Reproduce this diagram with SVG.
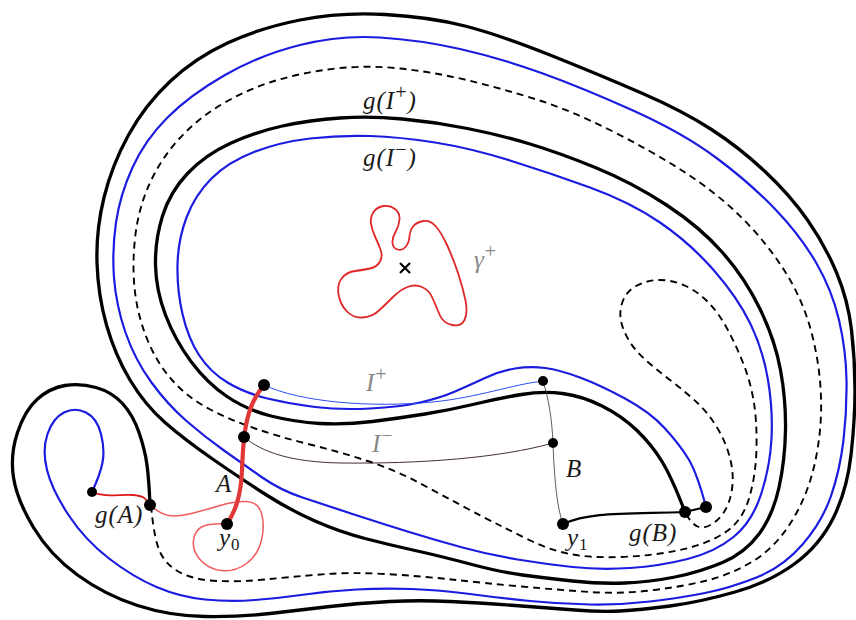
<svg xmlns="http://www.w3.org/2000/svg" width="856" height="620" viewBox="0 0 856 620">
<style>
.blk{fill:none;stroke:#000;stroke-width:3.3;stroke-linecap:round;stroke-linejoin:round}
.blu{fill:none;stroke:#1c1ce0;stroke-width:2.2;stroke-linecap:round}
.dsh{fill:none;stroke:#000;stroke-width:1.9;stroke-dasharray:7 5}
.red{fill:none;stroke:#e02828;stroke-width:1.8}
.lt{fill:#1a1a1a;font-family:'Liberation Serif',serif;font-style:italic;font-size:25px;letter-spacing:1px}
.sp{font-size:20px;font-style:normal}
.sb{font-size:17px;font-style:normal}
.gr{fill:#888}
.dot{fill:#000}
</style>
<rect width="856" height="620" fill="#fff"/>
<g id="connectors">
<path id="black-spiral" class="blk" d="M685,512 Q672,478 662,461.5 T637,430.5 T602,406 T562.5,393.5 T521.5,394.5 T475,404 T425,414 T372.5,421.5 T320,423.5 T271,416 T227,396.5 T191,361.5 T165.5,315 T155.5,265 T162.5,216 T187.5,173.5 T230,143.5 T282.5,126 T340,118 T402.5,119 T467.5,128.5 T530,144 T596.5,168 T666.5,205 T722.5,252.5 T760,309 T780.5,370 T785.5,430 T779,487.5 T759,534 T722.5,562.5 T675,577 T625,583 T572.5,581 T522.5,575 T470,564 T415,550.5 T365,538.5 T315,521 T266.5,495 T214,460 T165,422.5 T130,380 T106.5,325 T97,262.5 T104,197.5 T128.5,135 T170,81.5 T227.5,43 T300,20 T385,14.5 T465,26 T550,55 T641.5,93 T711.5,129.5 T765,171.5 T807.5,220 T836.5,272.5 T851.5,330 T855,390 T851,455 T833.5,517.5 T795,563.5 T735,592 T670,606 T620,611 T575,610 T515,605.5 T450,601.5 T390,601.5 T330,606.5 T270,613.5 T205,616.5 T137.5,605.5 T77.5,575 T33.5,527.5 T13.5,477.5 T17.5,432.5 T37.5,399 T65,385.5 T96,387.5 T122.5,403.5 T139,432.5 T147,465 T150,505"/>
<path id="blue-spiral" class="blu" d="M706,507 Q697,473 688.5,459 T665,428.5 T625,398.5 T580,377.5 T545,368 T515,368.5 T485,378 T455,391.5 T420,402.5 T370,408.5 T315,407 T267.5,398.5 T227.5,382.5 T199,355 T182.5,314 T177.5,265 T186.5,217.5 T211.5,178.5 T254,152 T310,138.5 T370,136 T435,142.5 T510,160.5 T590,187.5 T660,222.5 T714,270.5 T750.5,324 T768,380 T771.5,438.5 T761,494.5 T733.5,537 T687.5,559 T630,568 T572.5,567 T517.5,559.5 T462.5,547.5 T407.5,531.5 T352.5,514 T302.5,497.5 T261.5,477 T224,450.5 T186.5,421 T151.5,382.5 T125.5,332.5 T114,277.5 T116,222.5 T132.5,167.5 T167.5,117.5 T225,75 T300,45 T380,37.5 T460,49 T541.5,73 T633,110.5 T716.5,158 T775,209 T816,262.5 T839,320 T846.5,380 T843.5,440 T831,496 T802.5,544.5 T756.5,577.5 T705,593 T650,601.5 T590,604.5 T530,601 T470,594 T411.5,589 T356.5,589.5 T305,594.5 T255,600 T205,599.5 T156.5,587 T109,558.5 T68.5,515 T47,470 T47.5,434 T64,412.5 T86,412.5 T101,434 T102.5,462.5 T92,492"/>
<path id="dashed-spiral" class="dsh" d="M686,514 Q692,524 697.5,526.5 T710.5,525 T724,512 T732,489 T730.5,460 T718.5,430 T698.5,404 T672,381.5 T644.5,359 T625,333 T621.5,305 T636,286 T659.5,280 T684.5,285.5 T707.5,301.5 T726.5,327.5 T742.5,361.5 T753.5,400 T756.5,447.5 T749,498.5 T723.5,533.5 T677.5,550.5 T620,557 T570,554 T532.5,541.5 T499,525 T461.5,505.5 T417.5,482 T367.5,461 T310,444.5 T255,428.5 T208.5,408.5 T172,380 T147.5,340 T135,292 T135,238.5 T149,185 T179,139 T224,103 T277.5,80 T336,68.5 T400,68.5 T466.5,80 T535,99 T610,130 T683.5,171.5 T742,218 T785,271.5 T811.5,332.5 T821,397.5 T815,462.5 T791.5,521.5 T752.5,561.5 T705,581 T650,590.5 T590,592 T521.5,586.5 T451.5,579.5 T385,574 T320,574.5 T265,579.5 T217.5,581 T181,573 T160.5,553 T151,505"/>
<path id="I-plus" fill="none" stroke="#2a4cf0" stroke-width="1" d="M264,385 C300,402 370,408 433,402 C480,397 510,385 543,381"/>
<path id="I-minus" fill="none" stroke="#301818" stroke-width="0.9" d="M244,437 C262,452 290,462 340,463 C420,464 500,458 553,443"/>
<path id="B" fill="none" stroke="#333" stroke-width="0.8" d="M543,381 C549,400 552,420 553,443 C554,470 556,505 563,524"/>
<path id="gB" fill="none" stroke="#000" stroke-width="2.2" d="M563,524 C590,512 620,514 685,512 L706,507"/>
<path id="gA" fill="none" stroke="#e01818" stroke-width="1.8" d="M92,492 C105,498 120,494 133,495 S146,500 150,505"/>
<path id="loop-y0" fill="none" stroke="#f05a5a" stroke-width="1.5" d="M150,505 Q160,514 169,515.5 T191.5,513.5 T220,505.5 T246.5,501.5 T261.5,513.5 T261.5,540 T246.5,563.5 T221.5,570.5 T200,559.5 T193.5,540 T202.5,526.5 T227,524"/>
<path id="A" fill="none" stroke="#e03838" stroke-width="4.2" stroke-linecap="round" d="M227,524 C236,510 241,495 242,470 C243,450 243,440 246,425 C250,405 256,395 264,385"/>
</g>
<g id="gamma-plus">
<path class="red" d="M375,236.5 Q372,230 371,223.5 T373.5,212 T383.5,206 T395,209 T399.5,219.5 T395.5,232 T392.5,243 T397.5,249.5 T405.5,247 T409.5,236.5 T413.5,226 T423.5,221 T435.5,226 T447,245 T458,273 T465.5,300.5 T464.5,320 T452,325 T439.5,314.5 T432.5,298 T422,287 T407.5,287 T393,297 T379,310.5 T362.5,317.5 T346.5,311 T338.5,294 T342,278 T355,271 T370,268.5 T380,261.5 T380.5,249.5 T375,236.5 Z"/>
<path fill="none" stroke="#000" stroke-width="2.2" d="M400,263 L410,273 M400,273 L410,263"/>
</g>
<g id="nodes">
<g id="n-Iplus-left"><circle class="dot" cx="264" cy="385" r="6"/></g>
<g id="n-Iminus-left"><circle class="dot" cx="244" cy="437" r="6"/></g>
<g id="n-y0"><circle class="dot" cx="227" cy="524" r="6"/></g>
<g id="n-Iplus-right"><circle class="dot" cx="543" cy="381" r="5"/></g>
<g id="n-Iminus-right"><circle class="dot" cx="553" cy="443" r="5"/></g>
<g id="n-y1"><circle class="dot" cx="563" cy="524" r="6"/></g>
<g id="n-gB-left"><circle class="dot" cx="685" cy="512" r="6"/></g>
<g id="n-gB-right"><circle class="dot" cx="706" cy="507" r="6"/></g>
<g id="n-gA-left"><circle class="dot" cx="92" cy="492" r="5"/></g>
<g id="n-gA-right"><circle class="dot" cx="150" cy="505" r="6"/></g>
</g>
<g id="labels">
<text class="lt" x="363" y="109">g(I<tspan class="sp" dy="-10">+</tspan><tspan dy="10">)</tspan></text>
<text class="lt" x="363" y="166">g(I<tspan class="sp" dy="-10">−</tspan><tspan dy="10">)</tspan></text>
<text class="lt gr" x="474" y="268">γ<tspan class="sp" dy="-10">+</tspan></text>
<text class="lt gr" x="366" y="391">I<tspan class="sp" dy="-10">+</tspan></text>
<text class="lt gr" x="372" y="452">I<tspan class="sp" dy="-10">−</tspan></text>
<text class="lt" x="216" y="492" fill="#444">A</text>
<text class="lt" x="566" y="477" fill="#333">B</text>
<text class="lt" x="95" y="523">g(A)</text>
<text class="lt" x="219" y="546">y<tspan class="sb" dy="4">0</tspan></text>
<text class="lt" x="567" y="546">y<tspan class="sb" dy="4">1</tspan></text>
<text class="lt" x="629" y="541">g(B)</text>
</g>
</svg>
